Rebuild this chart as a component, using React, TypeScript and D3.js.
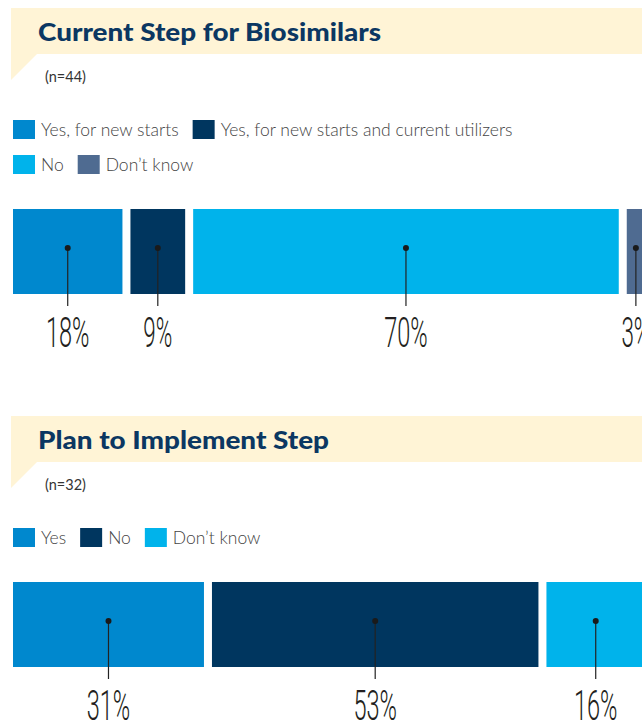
import React, { useEffect, useRef } from "react";
import * as d3 from "d3";

const currentTitle = "Current Step for Biosimilars";
const currentN = "(n=44)";
const currentCategories = [
  "Yes, for new starts",
  "Yes, for new starts and current utilizers",
  "No",
  "Don’t know",
];
const currentValues = [18, 9, 70, 3];
const currentColors = ["#0088ce", "#00365f", "#00b3eb", "#4f6b91"];

const planTitle = "Plan to Implement Step";
const planN = "(n=32)";
const planCategories = ["Yes", "No", "Don’t know"];
const planValues = [31, 53, 16];
const planColors = ["#0088ce", "#00365f", "#00b3eb"];

const W = 642;
const H = 720;

const drawPanel = (svg, opts) => {
  const { top, title, titleWidth, n, categories, values, colors, legendRows } = opts;
  const g = svg.append("g").attr("transform", `translate(0,${top})`);

  // yellow banner with the little tab on the left
  g.append("path")
    .attr("d", `M11,0 H${W} V46 H37 L11,72 Z`)
    .attr("fill", "#fff4d6");

  g.append("text")
    .attr("x", 38)
    .attr("y", 33)
    .attr("font-family", "Lato, 'Open Sans', sans-serif")
    .attr("font-weight", 900)
    .attr("font-size", 25)
    .attr("fill", "#0b3762")
    .attr("textLength", titleWidth)
    .attr("lengthAdjust", "spacingAndGlyphs")
    .text(title);

  g.append("text")
    .attr("x", 45)
    .attr("y", 74)
    .attr("font-family", "Lato, sans-serif")
    .attr("font-size", 14.5)
    .attr("fill", "#333")
    .text(n);

  // legend
  legendRows.forEach((row, ri) => {
    let x = 13;
    const y = 112 + ri * 35;
    row.forEach((i) => {
      g.append("rect")
        .attr("x", x)
        .attr("y", y)
        .attr("width", 22)
        .attr("height", 19)
        .attr("fill", colors[i]);
      const t = g
        .append("text")
        .attr("x", x + 28)
        .attr("y", y + 16)
        .attr("font-family", "Lato, sans-serif")
        .attr("font-weight", 300)
        .attr("font-size", 17.5)
        .attr("fill", "#444")
        .text(categories[i]);
      x += 28 + t.node().getComputedTextLength() + 14;
    });
  });

  // stacked bar, gaps between segments
  const gap = 8;
  const barTop = top + 166 + 35 * (legendRows.length - 1);
  const barH = 85;
  const xScale = d3
    .scaleLinear()
    .domain([0, d3.sum(values)])
    .range([0, 645 - 13 - gap * (values.length - 1)]);

  const starts = [];
  let acc = 13;
  values.forEach((v) => {
    starts.push(acc);
    acc += xScale(v) + gap;
  });

  const bars = svg.append("g");
  bars
    .selectAll("rect")
    .data(values)
    .enter()
    .append("rect")
    .attr("x", (d, i) => starts[i])
    .attr("y", barTop)
    .attr("width", (d) => xScale(d))
    .attr("height", barH)
    .attr("fill", (d, i) => colors[i]);

  const cx = (d, i) => starts[i] + xScale(d) / 2;

  bars
    .selectAll("line")
    .data(values)
    .enter()
    .append("line")
    .attr("x1", cx)
    .attr("x2", cx)
    .attr("y1", barTop + 39)
    .attr("y2", barTop + 97)
    .attr("stroke", "#222")
    .attr("stroke-width", 1.2);

  bars
    .selectAll("circle")
    .data(values)
    .enter()
    .append("circle")
    .attr("cx", cx)
    .attr("cy", barTop + 39)
    .attr("r", 3)
    .attr("fill", "#1a1a1a");

  bars
    .selectAll("text")
    .data(values)
    .enter()
    .append("text")
    .attr("x", cx)
    .attr("y", barTop + 138)
    .attr("text-anchor", "middle")
    .attr("font-family", "Roboto, sans-serif")
    .attr("font-weight", 300)
    .attr("font-size", 42)
    .attr("fill", "#231f20")
    .attr("textLength", (d) => (String(d).length + 1) * 14.5)
    .attr("lengthAdjust", "spacingAndGlyphs")
    .text((d) => `${d}%`);
};

const App = () => {
  const ref = useRef(null);

  useEffect(() => {
    if (!ref.current) return;
    const svg = d3.select(ref.current);
    svg.selectAll("*").remove();

    drawPanel(svg, {
      top: 8,
      title: currentTitle,
      titleWidth: 343,
      n: currentN,
      categories: currentCategories,
      values: currentValues,
      colors: currentColors,
      legendRows: [
        [0, 1],
        [2, 3],
      ],
    });

    drawPanel(svg, {
      top: 416,
      title: planTitle,
      titleWidth: 291,
      n: planN,
      categories: planCategories,
      values: planValues,
      colors: planColors,
      legendRows: [[0, 1, 2]],
    });
  }, []);

  return (
    <svg
      ref={ref}
      width={W}
      height={H}
      style={{ position: "absolute", left: 0, top: 0, background: "#fff" }}
    />
  );
};

export default App;
